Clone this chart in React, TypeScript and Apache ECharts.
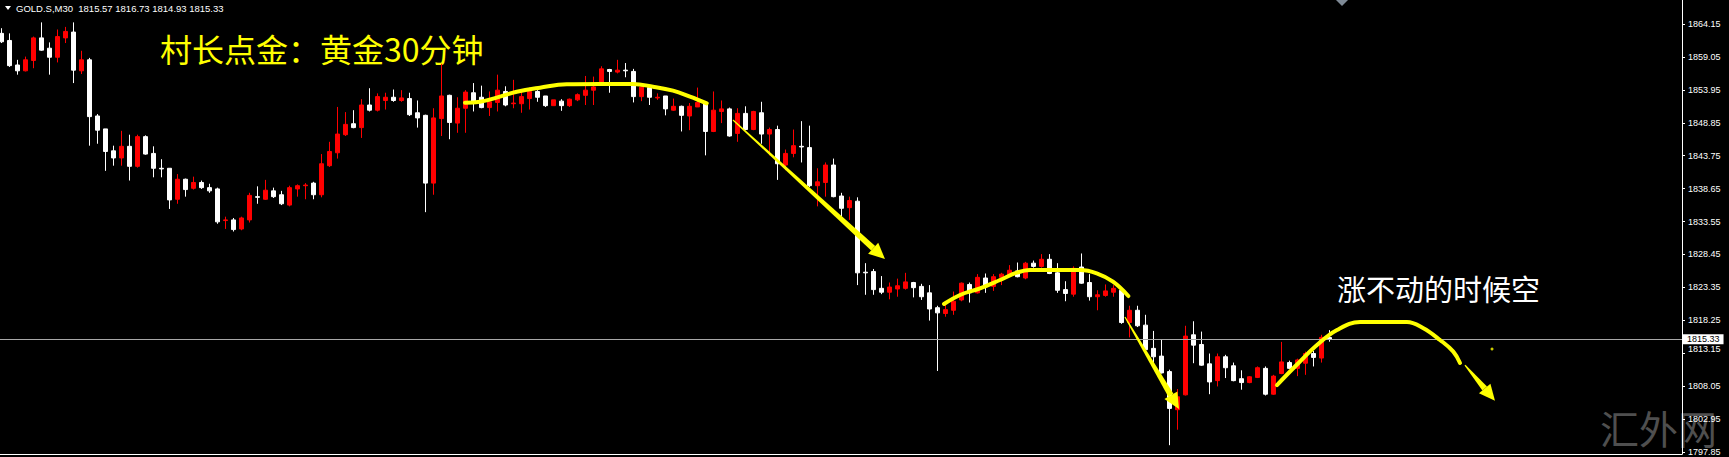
import React, { useEffect, useRef } from 'react';
import * as echarts from 'echarts';

// ---- data (MT4 GOLD.S M30) ----
const opens = [
  1862.7, 1861.6, 1857.8, 1856.9, 1858.5, 1862.0, 1860.4, 1859.0, 1862.0, 1862.9,
  1856.9, 1858.6, 1849.9, 1847.9, 1844.5, 1843.4, 1845.2, 1842.1, 1846.7, 1844.1,
  1841.8, 1841.8, 1837.0, 1840.1, 1838.7, 1839.6, 1838.8, 1838.6, 1833.7, 1833.8,
  1832.4, 1833.8, 1837.4, 1837.0, 1838.3, 1837.7, 1836.1, 1838.6, 1839.1, 1839.5,
  1837.7, 1842.2, 1844.2, 1847.0, 1848.7, 1848.1, 1851.6, 1850.8, 1852.3, 1852.8,
  1852.3, 1852.6, 1850.4, 1850.0, 1839.5, 1849.5, 1853.1, 1848.8, 1851.1, 1853.5,
  1852.8, 1851.2, 1852.0, 1853.7, 1851.8, 1851.8, 1852.6, 1853.7, 1853.0, 1851.5,
  1852.2, 1851.5, 1852.4, 1853.1, 1853.9, 1855.0, 1857.1, 1856.7, 1857.0, 1856.8,
  1852.9, 1854.3, 1852.7, 1853.0, 1850.8, 1851.4, 1849.9, 1851.3, 1851.9, 1847.5,
  1850.6, 1851.0, 1847.2, 1850.3, 1847.8, 1850.4, 1847.1, 1847.8, 1842.3, 1844.1,
  1845.2, 1845.0, 1839.1, 1839.6, 1842.3, 1837.5, 1835.7, 1836.7, 1825.7, 1825.8,
  1823.2, 1822.6, 1823.1, 1823.2, 1824.1, 1823.5, 1822.5, 1820.2, 1819.3, 1819.8,
  1821.4, 1823.8, 1822.5, 1824.8, 1823.5, 1824.9, 1825.3, 1825.9, 1824.8, 1827.1,
  1826.6, 1827.7, 1825.6, 1823.0, 1822.3, 1826.5, 1824.1, 1821.9, 1822.1, 1822.6,
  1822.9, 1817.9, 1819.8, 1817.5, 1813.9, 1812.7, 1810.3, 1804.4, 1806.7, 1816.0,
  1814.5, 1811.5, 1808.9, 1812.6, 1811.2, 1809.2, 1808.6, 1809.4, 1810.8, 1806.8,
  1810.0, 1811.7, 1810.8, 1811.6, 1813.1, 1812.4, 1815.57,
];
const highs = [
  1863.5, 1862.7, 1858.6, 1859.1, 1862.2, 1864.4, 1861.3, 1863.3, 1863.7, 1864.4,
  1860.0, 1858.9, 1850.2, 1847.9, 1845.3, 1847.6, 1847.0, 1847.0, 1846.9, 1845.2,
  1843.2, 1841.8, 1840.9, 1840.2, 1840.5, 1839.9, 1839.4, 1838.8, 1834.3, 1834.1,
  1834.3, 1838.0, 1839.0, 1840.0, 1838.8, 1838.3, 1839.1, 1839.3, 1839.5, 1839.7,
  1844.0, 1845.9, 1851.3, 1850.5, 1850.8, 1852.5, 1854.2, 1853.4, 1853.5, 1854.0,
  1853.9, 1853.5, 1852.3, 1850.1, 1851.1, 1858.0, 1853.2, 1852.8, 1853.9, 1855.0,
  1854.6, 1853.7, 1856.3, 1854.5, 1855.5, 1854.0, 1854.3, 1853.9, 1853.0, 1852.4,
  1852.5, 1852.6, 1853.4, 1856.1, 1856.0, 1857.6, 1857.2, 1858.6, 1858.1, 1857.2,
  1854.5, 1854.3, 1853.4, 1853.0, 1852.6, 1851.5, 1851.9, 1854.3, 1852.0, 1853.7,
  1852.3, 1851.2, 1851.1, 1851.4, 1850.7, 1852.1, 1848.1, 1848.4, 1844.7, 1847.8,
  1849.1, 1848.4, 1841.8, 1842.7, 1843.3, 1838.0, 1837.4, 1837.3, 1827.1, 1826.2,
  1825.1, 1824.1, 1824.7, 1825.6, 1824.2, 1823.9, 1823.7, 1820.5, 1820.6, 1822.7,
  1824.1, 1824.1, 1825.4, 1825.5, 1825.4, 1825.6, 1826.8, 1827.2, 1827.3, 1827.5,
  1828.5, 1828.5, 1827.1, 1824.3, 1826.6, 1828.6, 1825.4, 1822.9, 1823.8, 1823.7,
  1823.0, 1820.5, 1820.5, 1819.1, 1816.6, 1815.3, 1810.6, 1807.6, 1817.4, 1818.1,
  1816.5, 1813.1, 1813.1, 1812.9, 1811.7, 1810.5, 1809.6, 1811.1, 1811.1, 1809.8,
  1814.9, 1812.0, 1812.3, 1813.4, 1813.5, 1816.0, 1816.73,
];
const lows = [
  1861.2, 1857.5, 1856.3, 1856.8, 1857.3, 1860.0, 1856.3, 1858.2, 1861.2, 1855.0,
  1856.4, 1845.3, 1845.6, 1841.4, 1842.2, 1842.2, 1839.9, 1841.9, 1843.9, 1840.4,
  1840.4, 1835.5, 1836.3, 1837.4, 1838.5, 1838.6, 1838.0, 1833.2, 1832.4, 1832.0,
  1832.2, 1833.4, 1836.3, 1836.9, 1837.2, 1836.1, 1835.9, 1837.4, 1837.0, 1837.0,
  1837.3, 1842.0, 1843.3, 1846.8, 1848.0, 1846.5, 1850.6, 1850.6, 1850.9, 1852.1,
  1852.1, 1849.9, 1848.1, 1835.0, 1837.7, 1846.8, 1846.3, 1847.3, 1847.3, 1850.6,
  1851.1, 1849.9, 1850.6, 1851.4, 1851.1, 1850.4, 1850.9, 1852.1, 1851.3, 1851.5,
  1850.7, 1851.3, 1852.2, 1851.6, 1851.6, 1854.9, 1853.5, 1856.5, 1855.9, 1852.0,
  1852.2, 1851.6, 1852.4, 1850.0, 1850.7, 1847.5, 1847.7, 1851.3, 1843.8, 1847.4,
  1848.8, 1846.7, 1845.9, 1847.7, 1847.7, 1845.6, 1843.8, 1840.0, 1841.5, 1843.5,
  1842.7, 1838.9, 1835.9, 1837.4, 1837.3, 1834.3, 1833.8, 1823.7, 1822.2, 1822.2,
  1822.3, 1821.5, 1821.9, 1823.0, 1821.8, 1821.4, 1818.2, 1810.4, 1818.8, 1819.1,
  1821.2, 1821.0, 1822.4, 1822.5, 1822.8, 1823.7, 1825.0, 1824.9, 1824.6, 1826.4,
  1826.4, 1825.4, 1822.5, 1821.2, 1821.9, 1823.9, 1821.3, 1819.8, 1821.9, 1821.9,
  1817.7, 1815.6, 1817.2, 1813.6, 1811.6, 1810.0, 1798.9, 1801.3, 1806.6, 1811.6,
  1811.2, 1806.8, 1808.0, 1809.3, 1808.8, 1807.5, 1808.5, 1809.3, 1806.6, 1806.7,
  1809.9, 1810.7, 1809.6, 1809.8, 1811.1, 1811.7, 1814.93,
];
const closes = [
  1861.4, 1857.7, 1856.9, 1858.6, 1862.0, 1860.1, 1859.0, 1862.2, 1863.0, 1857.0,
  1858.6, 1849.8, 1847.7, 1844.4, 1843.4, 1845.2, 1842.1, 1846.7, 1844.0, 1841.8,
  1841.7, 1836.9, 1840.1, 1838.5, 1839.6, 1838.8, 1838.3, 1833.5, 1833.8, 1832.3,
  1834.1, 1837.6, 1837.3, 1838.4, 1837.4, 1836.3, 1838.8, 1839.1, 1839.2, 1837.7,
  1842.5, 1844.4, 1847.1, 1848.6, 1848.1, 1851.6, 1850.8, 1852.9, 1852.8, 1852.3,
  1852.7, 1850.1, 1849.6, 1839.5, 1849.6, 1853.0, 1848.9, 1851.1, 1853.6, 1852.0,
  1851.2, 1852.1, 1853.9, 1851.6, 1851.9, 1852.9, 1853.7, 1852.8, 1851.5, 1852.4,
  1851.5, 1852.5, 1853.2, 1853.9, 1854.4, 1857.2, 1856.8, 1857.0, 1856.9, 1852.9,
  1854.4, 1852.8, 1852.8, 1851.0, 1851.4, 1850.0, 1851.4, 1852.0, 1847.5, 1850.8,
  1851.0, 1846.8, 1850.3, 1847.8, 1850.6, 1847.1, 1847.8, 1842.5, 1844.1, 1845.3,
  1845.1, 1839.1, 1839.7, 1842.3, 1837.4, 1835.6, 1836.8, 1825.6, 1825.6, 1823.0,
  1822.6, 1823.4, 1823.6, 1824.2, 1823.3, 1821.9, 1820.0, 1819.4, 1819.9, 1821.2,
  1824.0, 1822.5, 1824.9, 1823.5, 1825.0, 1825.4, 1826.0, 1825.0, 1827.1, 1826.6,
  1827.7, 1825.5, 1822.9, 1822.4, 1826.3, 1824.0, 1821.9, 1822.2, 1822.8, 1823.2,
  1817.9, 1819.8, 1817.4, 1813.7, 1812.6, 1810.1, 1804.6, 1806.4, 1815.8, 1814.4,
  1811.3, 1808.7, 1812.6, 1810.9, 1808.9, 1808.6, 1809.5, 1810.9, 1806.8, 1809.6,
  1811.8, 1810.8, 1812.1, 1813.1, 1812.5, 1815.6, 1815.33,
];

const yTicks = [1864.15, 1859.05, 1853.95, 1848.85, 1843.75, 1838.65, 1833.55, 1828.45, 1823.35, 1818.25, 1813.15, 1808.05, 1802.95, 1797.85];
const shiftedLabel = 1813.15;
const lastPrice = 1815.33;
const headerText = 'GOLD.S,M30  1815.57 1816.73 1814.93 1815.33';
const titleText = '村长点金：黄金30分钟';
const noteText = '涨不动的时候空';
const watermarkText = '汇外网';

// hand-drawn annotations, in [bar index, price]
const hump1 = [[57.91, 1851.96], [59.79, 1852.11], [62.29, 1852.89], [64.38, 1853.66], [67.29, 1854.28], [70.63, 1854.81], [74.79, 1854.85], [78.91, 1854.85], [81.41, 1854.44], [83.91, 1853.82], [86.04, 1852.89], [88.13, 1851.86]];
const hump2 = [[117.79, 1820.77], [119.79, 1822.17], [122.29, 1823.2], [124.79, 1824.49], [126.88, 1825.62], [128.54, 1826.04], [134.79, 1826.04], [136.88, 1825.53], [138.91, 1824.23], [140.83, 1822.01]];
const hump3 = [[159.41, 1808.22], [161.91, 1811.4], [164.41, 1814.42], [166.91, 1816.75], [169.79, 1817.98], [175.66, 1817.98], [177.66, 1817.05], [179.79, 1815.2], [181.45, 1813.4], [182.29, 1811.63]];
const arrows = [
  [91.41, 1849.28, 110.41, 1827.74],
  [140.41, 1818.76, 147.16, 1804.51],
  [182.91, 1811.32, 186.66, 1805.79],
];
const dots = [[186.29, 1813.8]];

const W = 1729;
const H = 457;
const PLOT_W = 1682;
const PLOT_H = 454;
const BAR_STEP = 8;
const X_MIN = -0.2125;
const Y_MIN = 1797.535;
const Y_MAX = 1867.868;

const YELLOW = '#ffff00';

export default function App() {
  const ref = useRef<HTMLDivElement>(null);
  useEffect(() => {
    if (!ref.current) return;
    const chart = echarts.init(ref.current, undefined, { renderer: 'svg' });
    const candles = opens.map((o, i) => [i, o, closes[i], lows[i], highs[i]]);
    const lineStyle = { color: YELLOW, width: 4, cap: 'round', join: 'round' };
    const option: any = {
      animation: false,
      backgroundColor: '#000',
      grid: { left: 0, top: 0, width: PLOT_W, height: PLOT_H, containLabel: false },
      xAxis: {
        type: 'value',
        min: X_MIN,
        max: X_MIN + PLOT_W / BAR_STEP,
        axisLine: { show: true, onZero: false, lineStyle: { color: '#fff', width: 1 } },
        axisTick: { show: false },
        axisLabel: { show: false },
        splitLine: { show: false },
      },
      yAxis: {
        type: 'value',
        position: 'right',
        min: Y_MIN,
        max: Y_MAX,
        axisLine: { show: true, onZero: false, lineStyle: { color: '#fff', width: 1 } },
        axisTick: { show: true, inside: false, length: 3, lineStyle: { color: '#fff' }, customValues: yTicks },
        axisLabel: {
          show: true,
          customValues: yTicks.filter((v) => v !== shiftedLabel),
          formatter: (v: number) => v.toFixed(2),
          color: '#ffffff',
          fontSize: 9,
          fontFamily: 'Liberation Sans',
          margin: 6,
        },
        splitLine: { show: false },
      },
      series: [
        {
          type: 'candlestick',
          data: candles,
          barWidth: 4,
          itemStyle: {
            color: '#ff0000',
            color0: '#ffffff',
            borderColor: '#ff0000',
            borderColor0: '#ffffff',
            borderWidth: 1,
          },
          silent: true,
          markLine: {
            silent: true,
            symbol: ['none', 'none'],
            lineStyle: { color: '#a8a8a8', width: 1, type: 'solid' },
            label: {
              show: true,
              position: 'end',
              formatter: lastPrice.toFixed(2),
              color: '#000',
              backgroundColor: '#fff',
              fontSize: 9,
              fontFamily: 'Liberation Sans',
              padding: [1, 4, 0, 4],
              distance: 1,
            },
            data: [{ yAxis: lastPrice }],
          },
        },
        { type: 'line', data: hump1, smooth: 0.4, symbol: 'none', lineStyle, z: 10, silent: true },
        { type: 'line', data: hump2, smooth: 0.4, symbol: 'none', lineStyle, z: 10, silent: true },
        { type: 'line', data: hump3, smooth: 0.4, symbol: 'none', lineStyle, z: 10, silent: true },
        {
          type: 'custom',
          data: arrows,
          encode: { x: [0, 2], y: [1, 3] },
          clip: false,
          silent: true,
          z: 11,
          renderItem: (params: any, api: any) => {
            const p0 = api.coord([api.value(0), api.value(1)]);
            const p1 = api.coord([api.value(2), api.value(3)]);
            const dx = p1[0] - p0[0];
            const dy = p1[1] - p0[1];
            const len = Math.sqrt(dx * dx + dy * dy) || 1;
            const ux = dx / len;
            const uy = dy / len;
            const nx = -uy;
            const ny = ux;
            const headLen = 16;
            const headHalf = 7.5;
            const w0 = 0.6;
            const w1 = 3;
            const bx = p1[0] - ux * headLen;
            const by = p1[1] - uy * headLen;
            return {
              type: 'group',
              children: [
                {
                  type: 'polygon',
                  shape: { points: [[p0[0] + nx * w0, p0[1] + ny * w0], [bx + nx * w1, by + ny * w1], [bx - nx * w1, by - ny * w1], [p0[0] - nx * w0, p0[1] - ny * w0]] },
                  style: { fill: YELLOW },
                },
                {
                  type: 'polygon',
                  shape: { points: [[p1[0], p1[1]], [bx + nx * headHalf, by + ny * headHalf], [bx - nx * headHalf, by - ny * headHalf]] },
                  style: { fill: YELLOW },
                },
              ],
            };
          },
        },
        { type: 'scatter', data: dots, symbolSize: 3, itemStyle: { color: YELLOW }, z: 11, silent: true },
      ],
      graphic: [
        { type: 'polygon', shape: { points: [[5, 6], [11, 6], [8, 10]] }, style: { fill: '#fff' } },
        { type: 'text', x: 16, y: 8, style: { text: headerText, fill: '#fff', fontSize: 9.5, fontFamily: 'Liberation Sans', verticalAlign: 'middle' } },
        { type: 'text', x: 160, y: 48, style: { text: titleText, fill: YELLOW, fontSize: 32, fontFamily: 'Noto Sans CJK SC', verticalAlign: 'middle' } },
        { type: 'text', x: 1337, y: 288, style: { text: noteText, fill: '#fff', fontSize: 29, fontFamily: 'Noto Sans CJK SC', verticalAlign: 'middle' } },
        { type: 'text', x: 1600, y: 427, z: -1, style: { text: watermarkText, fill: '#4f4f4f', fontSize: 39, fontFamily: 'Noto Sans CJK SC', verticalAlign: 'middle' } },
        { type: 'polygon', shape: { points: [[1336, 0], [1348, 0], [1342, 6]] }, style: { fill: '#7f8a96' } },
        { type: 'text', x: 1688, y: 349, style: { text: shiftedLabel.toFixed(2), fill: '#fff', fontSize: 9, fontFamily: 'Liberation Sans', verticalAlign: 'middle' } },
      ],
    };
    chart.setOption(option);
    return () => chart.dispose();
  }, []);
  return (
    <div
      ref={ref}
      style={{ position: 'fixed', left: 0, top: 0, width: W, height: H, background: '#000' }}
    />
  );
}
